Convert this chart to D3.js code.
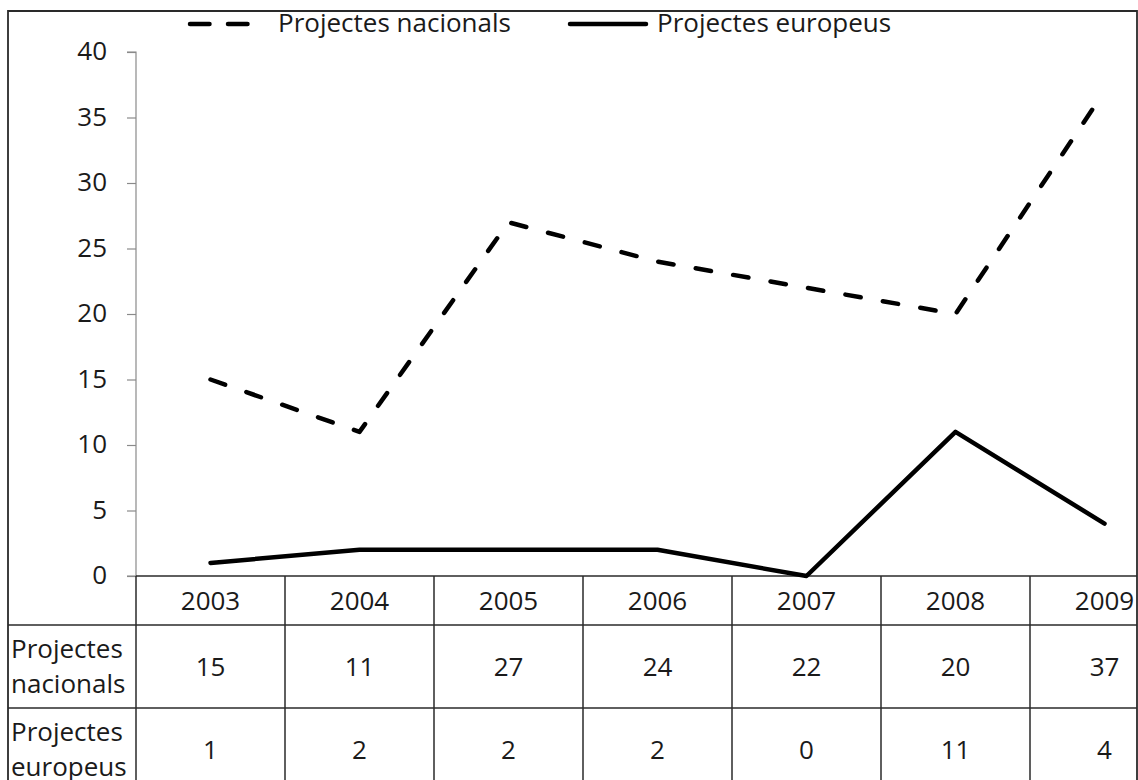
<!DOCTYPE html>
<html>
<head>
<meta charset="utf-8">
<script src="https://cdn.jsdelivr.net/npm/d3@7"></script>
<style>
  html, body { margin: 0; padding: 0; background: #fff; }
  svg { display: block; }
  text { font-family: "Open Sans", sans-serif; fill: #1a1a1a; }
</style>
</head>
<body>
<svg id="chart" width="1138" height="780"></svg>
<script>
const years = ["2003", "2004", "2005", "2006", "2007", "2008", "2009"];
const nacionals = [15, 11, 27, 24, 22, 20, 37];
const europeus = [1, 2, 2, 2, 0, 11, 4];
const seriesNames = ["Projectes nacionals", "Projectes europeus"];
const rowLabels = [["Projectes", "nacionals"], ["Projectes", "europeus"]];
const yTicks = [0, 5, 10, 15, 20, 25, 30, 35, 40];

const svg = d3.select("#chart");
const W = 1138, H = 780;
const frame = { left: 8, top: 11, right: 1137 };
const plot = { left: 136, top: 52, bottom: 576 };
const colW = 149;
const rowBounds = [576, 625, 708, 791];
const fontSize = 26;

svg.append("defs").append("clipPath").attr("id", "frameClip")
  .append("rect").attr("x", frame.left).attr("y", frame.top)
  .attr("width", frame.right - frame.left).attr("height", H - frame.top + 10);

const g = svg.append("g").attr("clip-path", "url(#frameClip)");

const x = d3.scaleBand().domain(years)
  .range([plot.left, plot.left + colW * years.length]).padding(0);
const xc = d => x(d) + x.bandwidth() / 2;
const y = d3.scaleLinear().domain([0, 40]).range([plot.bottom, plot.top]);

// Y axis
const yAxis = d3.axisLeft(y).tickValues(yTicks).tickSize(9).tickPadding(20);
const ya = g.append("g").attr("transform", `translate(${plot.left},0)`).call(yAxis);
ya.select(".domain").attr("stroke", "#8a8a8a").attr("stroke-width", 1.2).attr("d", `M-9,${plot.top}H0V${plot.bottom}H-9`);
ya.selectAll(".tick line").attr("stroke", "#8a8a8a").attr("stroke-width", 1.2);
ya.selectAll(".tick text").attr("font-size", fontSize).attr("fill", "#1a1a1a")
  .attr("font-family", "'Open Sans', sans-serif").attr("dy", "0.3em");

// Data table
const tbl = g.append("g").attr("stroke", "#2a2a2a").attr("stroke-width", 1.5);
// top line (x axis / table top)
tbl.append("line").attr("x1", plot.left).attr("x2", x.range()[1])
  .attr("y1", rowBounds[0]).attr("y2", rowBounds[0]);
// row lines
[rowBounds[1], rowBounds[2]].forEach(yy => {
  tbl.append("line").attr("x1", frame.left).attr("x2", x.range()[1])
    .attr("y1", yy).attr("y2", yy);
});
// column lines
years.concat(["end"]).forEach((yr, i) => {
  const xx = plot.left + i * colW;
  tbl.append("line").attr("x1", xx).attr("x2", xx)
    .attr("y1", rowBounds[0]).attr("y2", H + 20);
});

// Header year labels
g.selectAll(".yearLabel").data(years).join("text")
  .attr("class", "yearLabel")
  .attr("x", d => xc(d)).attr("y", (rowBounds[0] + rowBounds[1]) / 2)
  .attr("dy", "0.36em").attr("text-anchor", "middle").attr("font-size", fontSize)
  .text(d => d);

// Values rows
[nacionals, europeus].forEach((vals, r) => {
  const cy = (rowBounds[r + 1] + rowBounds[r + 2]) / 2;
  g.selectAll(".val" + r).data(vals).join("text")
    .attr("class", "val" + r)
    .attr("x", (d, i) => xc(years[i])).attr("y", cy)
    .attr("dy", "0.36em").attr("text-anchor", "middle").attr("font-size", fontSize)
    .text(d => d);
  const lbl = g.append("text").attr("x", frame.left + 3).attr("font-size", fontSize);
  rowLabels[r].forEach((t, k) => {
    lbl.append("tspan").attr("x", frame.left + 3)
      .attr("y", cy - 9 + k * 35).text(t);
  });
});

// Lines
const line = d3.line().x((d, i) => xc(years[i])).y(d => y(d));
const dash = "15.5,22.5";
g.append("path").datum(nacionals).attr("d", line)
  .attr("fill", "none").attr("stroke", "#000").attr("stroke-width", 4.5)
  .attr("stroke-linecap", "round").attr("stroke-linejoin", "round")
  .attr("stroke-dasharray", dash);
g.append("path").datum(europeus).attr("d", line)
  .attr("fill", "none").attr("stroke", "#000").attr("stroke-width", 4.5)
  .attr("stroke-linecap", "round").attr("stroke-linejoin", "round");

// Legend
const legY = 24;
const leg = g.append("g");
leg.append("line").attr("x1", 190).attr("x2", 250).attr("y1", legY).attr("y2", legY)
  .attr("stroke", "#000").attr("stroke-width", 4.5).attr("stroke-linecap", "round")
  .attr("stroke-dasharray", "19.5,18.5");
leg.append("text").attr("x", 278).attr("y", legY).attr("dy", "0.32em")
  .attr("font-size", fontSize).text(seriesNames[0]);
leg.append("line").attr("x1", 570).attr("x2", 646).attr("y1", legY).attr("y2", legY)
  .attr("stroke", "#000").attr("stroke-width", 4.5).attr("stroke-linecap", "round");
leg.append("text").attr("x", 657).attr("y", legY).attr("dy", "0.32em")
  .attr("font-size", fontSize).text(seriesNames[1]);

// Outer frame
svg.append("path")
  .attr("d", `M${frame.left},${H + 5}V${frame.top}H${frame.right}V${H + 5}`)
  .attr("fill", "none").attr("stroke", "#2a2a2a").attr("stroke-width", 1.8);
</script>
</body>
</html>
